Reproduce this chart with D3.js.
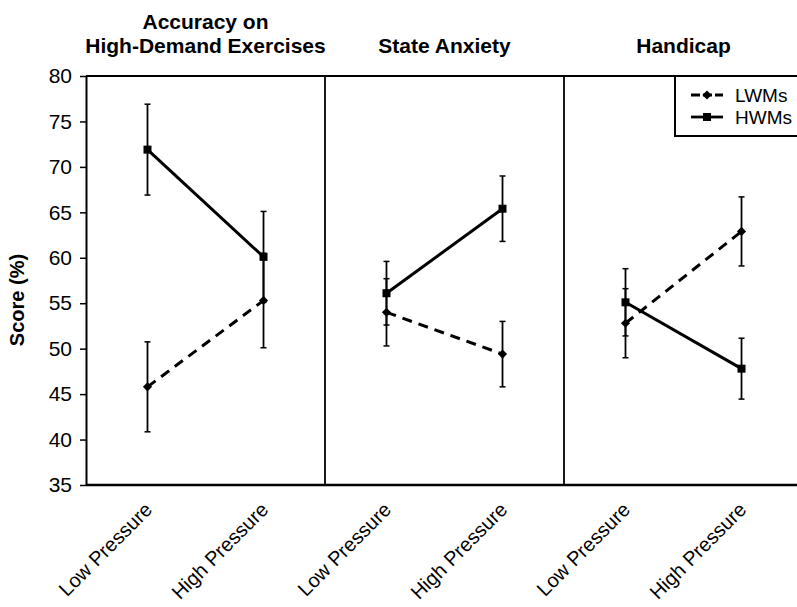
<!DOCTYPE html>
<html>
<head>
<meta charset="utf-8">
<script src="https://cdn.jsdelivr.net/npm/d3@7"></script>
<style>
  body { margin: 0; background: #fff; }
  svg { display: block; font-family: "Liberation Sans", Arial, Helvetica, sans-serif; }
</style>
</head>
<body>
<div id="chart"></div>
<script>
// Data
const panelTitles = [["Accuracy on", "High-Demand Exercises"], ["State Anxiety"], ["Handicap"]];
const conditions = ["Low Pressure", "High Pressure"];
const lwmMeans = [[45.8, 55.3], [54.0, 49.4], [52.8, 62.9]];
const lwmErrors = [[4.95, 5.2], [3.7, 3.6], [3.8, 3.8]];
const hwmMeans = [[71.9, 60.1], [56.1, 65.4], [55.1, 47.8]];
const hwmErrors = [[5.0, 5.0], [3.5, 3.6], [3.7, 3.35]];
const yTicks = [35, 40, 45, 50, 55, 60, 65, 70, 75, 80];

// Dimensions
const W = 797, H = 607;
const margin = {top: 76, left: 86};
const panelWidth = 239;
const plotHeight = 409;

const svg = d3.select("#chart").append("svg")
    .attr("width", W)
    .attr("height", H);

const g = svg.append("g")
    .attr("transform", `translate(${margin.left}, ${margin.top})`);

// Scales
const y = d3.scaleLinear().domain([35, 80]).range([plotHeight, 0]);
const panelX = d3.scaleBand().domain(d3.range(panelTitles.length)).range([0, panelWidth * 3]);
const x = d3.scalePoint().domain(conditions).range([0, panelWidth]).padding(0.53);

// Y axis
const yAxis = g.append("g")
    .call(d3.axisLeft(y).tickValues(yTicks).tickSize(6).tickSizeOuter(0).tickPadding(8));
yAxis.select(".domain").attr("stroke", "#000").attr("stroke-width", 2);
yAxis.selectAll(".tick line").attr("stroke", "#000").attr("stroke-width", 1.5);
yAxis.selectAll(".tick text")
    .attr("fill", "#000")
    .style("font-size", "21px");

// Y axis label
svg.append("text")
    .attr("transform", `translate(24, 300) rotate(-90)`)
    .attr("text-anchor", "middle")
    .style("font-size", "20px")
    .style("font-weight", 700)
    .text("Score (%)");

// Frame: top and bottom lines
g.append("line")
    .attr("x1", 0).attr("x2", W)
    .attr("y1", 0).attr("y2", 0)
    .attr("stroke", "#000").attr("stroke-width", 2);
g.append("line")
    .attr("x1", 0).attr("x2", W)
    .attr("y1", plotHeight).attr("y2", plotHeight)
    .attr("stroke", "#000").attr("stroke-width", 2.5);

// Panel dividers
g.selectAll(".divider")
    .data([1, 2])
    .enter()
    .append("line")
    .attr("class", "divider")
    .attr("x1", (d) => panelX(d)).attr("x2", (d) => panelX(d))
    .attr("y1", 0).attr("y2", plotHeight)
    .attr("stroke", "#000").attr("stroke-width", 1.8);

const squareSym = d3.symbol().type(d3.symbolSquare).size(64);
const diamondSym = d3.symbol().type(d3.symbolSquare).size(42);

const series = [
    {name: "LWMs", means: lwmMeans, errors: lwmErrors, dash: "10,7", marker: "diamond"},
    {name: "HWMs", means: hwmMeans, errors: hwmErrors, dash: null, marker: "square"}
];

// Each panel
panelTitles.forEach(function(title, p)
{
    const panel = g.append("g")
        .attr("transform", `translate(${panelX(p)}, 0)`);

    // Title (last line sits just above the frame)
    const t = panel.append("text")
        .attr("text-anchor", "middle")
        .style("font-size", "21px")
        .style("font-weight", 700);
    title.forEach(function(line, i)
    {
        t.append("tspan")
            .attr("x", panelWidth / 2)
            .attr("y", -23 - (title.length - 1 - i) * 24)
            .text(line);
    });

    // X labels
    panel.selectAll(".xlabel")
        .data(conditions)
        .enter()
        .append("text")
        .attr("class", "xlabel")
        .attr("text-anchor", "end")
        .attr("transform", (d) => `translate(${x(d) + 6}, ${plotHeight + 26}) rotate(-45)`)
        .style("font-size", "20px")
        .text((d) => d);

    series.forEach(function(s)
    {
        const pts = conditions.map((c, i) => ({c: c, m: s.means[p][i], e: s.errors[p][i]}));

        // Error bars
        const eb = panel.selectAll(null)
            .data(pts)
            .enter()
            .append("g");
        eb.append("line")
            .attr("x1", (d) => x(d.c)).attr("x2", (d) => x(d.c))
            .attr("y1", (d) => y(d.m - d.e)).attr("y2", (d) => y(d.m + d.e))
            .attr("stroke", "#000").attr("stroke-width", 1.8);
        eb.selectAll(null)
            .data((d) => [d.m - d.e, d.m + d.e].map((v) => ({c: d.c, v: v})))
            .enter()
            .append("line")
            .attr("x1", (d) => x(d.c) - 3).attr("x2", (d) => x(d.c) + 3)
            .attr("y1", (d) => y(d.v)).attr("y2", (d) => y(d.v))
            .attr("stroke", "#000").attr("stroke-width", 1.5);

        // Line
        panel.append("path")
            .datum(pts)
            .attr("d", d3.line().x((d) => x(d.c)).y((d) => y(d.m)))
            .attr("fill", "none")
            .attr("stroke", "#000")
            .attr("stroke-width", 3)
            .attr("stroke-dasharray", s.dash);

        // Markers
        panel.selectAll(null)
            .data(pts)
            .enter()
            .append("path")
            .attr("d", s.marker === "square" ? squareSym : diamondSym)
            .attr("transform", (d) => `translate(${x(d.c)}, ${y(d.m)})` + (s.marker === "diamond" ? " rotate(45)" : ""))
            .attr("fill", "#000");
    });
});

// Legend
const legend = svg.append("g").attr("transform", "translate(675, 76)");
legend.append("rect")
    .attr("x", 0).attr("y", 0)
    .attr("width", 140).attr("height", 60)
    .attr("fill", "#fff")
    .attr("stroke", "#000").attr("stroke-width", 2);

const legendItem = legend.selectAll(".legend")
    .data(series)
    .enter()
    .append("g")
    .attr("class", "legend")
    .attr("transform", (d, i) => `translate(0, ${19 + i * 22})`);

legendItem.append("line")
    .attr("x1", 16).attr("x2", 48)
    .attr("y1", 0).attr("y2", 0)
    .attr("stroke", "#000").attr("stroke-width", 2.8)
    .attr("stroke-dasharray", (d) => d.dash ? "9,3" : null);

legendItem.append("path")
    .attr("d", (d) => d.marker === "square" ? squareSym() : diamondSym())
    .attr("transform", (d) => "translate(32, 0)" + (d.marker === "diamond" ? " rotate(45)" : ""))
    .attr("fill", "#000");

legendItem.append("text")
    .attr("x", 60)
    .attr("y", 7)
    .style("font-size", "19px")
    .text((d) => d.name);
</script>
</body>
</html>
